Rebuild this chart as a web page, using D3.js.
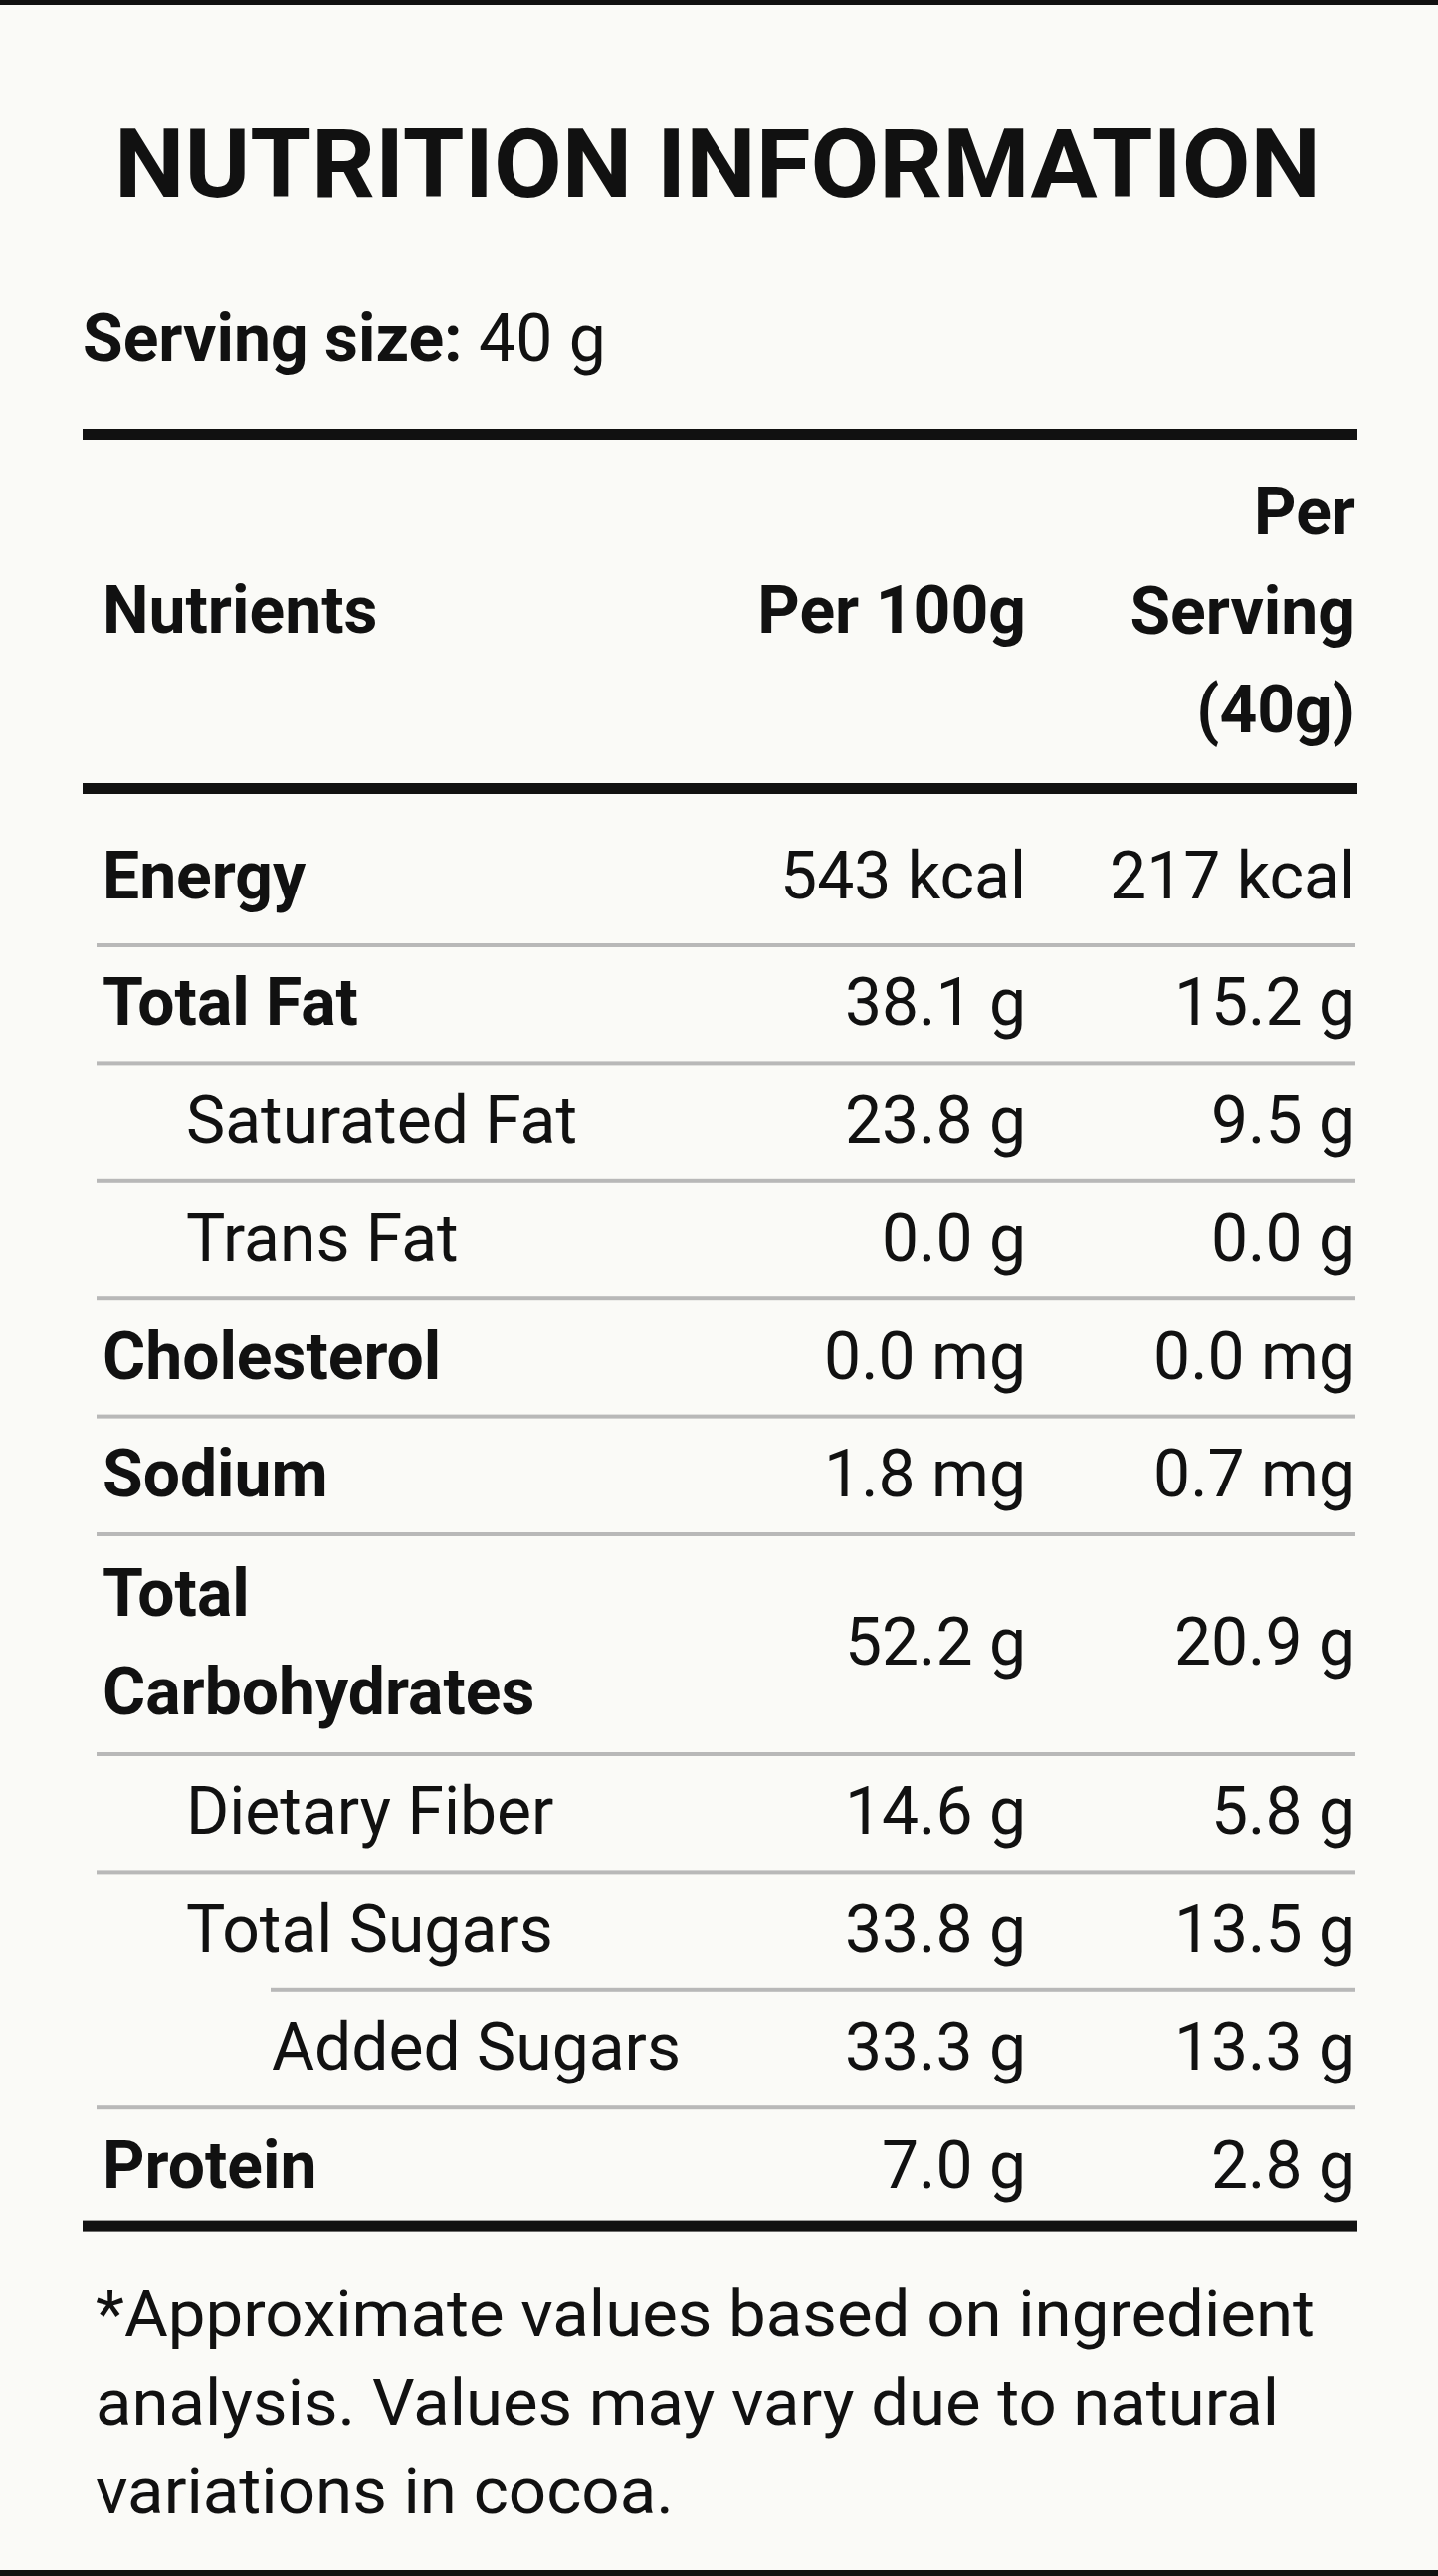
<!DOCTYPE html>
<html>
<head>
<meta charset="utf-8">
<script src="https://cdn.jsdelivr.net/npm/d3@7"></script>
<style>
  body { margin: 0; background: #fafaf7; }
  text { font-family: Roboto, "Noto Sans", sans-serif; fill: #111; }
</style>
</head>
<body>
<div id="target"></div>
<script>
// data
var nutrients = ['Energy', 'Total Fat', 'Saturated Fat', 'Trans Fat', 'Cholesterol', 'Sodium',
                 'Total Carbohydrates', 'Dietary Fiber', 'Total Sugars', 'Added Sugars', 'Protein'];
var per100 = ['543 kcal', '38.1 g', '23.8 g', '0.0 g', '0.0 mg', '1.8 mg', '52.2 g', '14.6 g', '33.8 g', '33.3 g', '7.0 g'];
var perServing = ['217 kcal', '15.2 g', '9.5 g', '0.0 g', '0.0 mg', '0.7 mg', '20.9 g', '5.8 g', '13.5 g', '13.3 g', '2.8 g'];
var levels = [0, 0, 1, 1, 0, 0, 0, 1, 1, 2, 0];
var headers = ['Nutrients', 'Per 100g', 'Per Serving (40g)'];
var footnote = ['*Approximate values based on ingredient',
                'analysis. Values may vary due to natural',
                'variations in cocoa.'];
var footWidths = [1225, 1189, 581];

var W = 1445, H = 2589;
var svg = d3.select('#target').append('svg').attr('width', W).attr('height', H);

svg.append('rect').attr('width', W).attr('height', H).attr('fill', '#fafaf7');
svg.append('rect').attr('width', W).attr('height', 5).attr('fill', '#111');
svg.append('rect').attr('y', H - 6).attr('width', W).attr('height', 6).attr('fill', '#111');

var left = 83, right = 1364;
var indent = d3.scaleOrdinal().domain([0, 1, 2]).range([103, 187, 273]);
var col1 = 1031, col2 = 1362;
var fs = 66;

svg.append('text').attr('x', 721).attr('y', 198).attr('text-anchor', 'middle')
  .attr('font-size', 97).attr('font-weight', 700)
  .attr('textLength', 1212).attr('lengthAdjust', 'spacingAndGlyphs')
  .text('NUTRITION INFORMATION');

var ss = svg.append('text').attr('x', left).attr('y', 363).attr('font-size', 66);
ss.append('tspan').attr('font-weight', 700).text('Serving size:');
ss.append('tspan').text(' 40 g');

svg.append('rect').attr('x', left).attr('y', 431).attr('width', right - left).attr('height', 11).attr('fill', '#111');

// header
svg.append('text').attr('x', indent(0)).attr('y', 636).attr('font-size', fs).attr('font-weight', 700).text(headers[0]);
svg.append('text').attr('x', col1).attr('y', 636).attr('text-anchor', 'end').attr('font-size', fs).attr('font-weight', 700).text(headers[1]);
['Per', 'Serving', '(40g)'].forEach(function (t, i) {
  svg.append('text').attr('x', col2).attr('y', 537 + i * 99.5).attr('text-anchor', 'end')
    .attr('font-size', fs).attr('font-weight', 700).text(t);
});

svg.append('rect').attr('x', left).attr('y', 787).attr('width', right - left).attr('height', 11).attr('fill', '#111');

// rows: separator positions accumulate from row heights
var rowH = nutrients.map(function (d) { return d.length > 15 ? 221 : 118.4; });
var seps = [];
var acc = 950;
rowH.forEach(function (h, i) { if (i > 0) acc += h; seps.push(acc); });

var rows = svg.selectAll('g.row').data(nutrients).enter().append('g').attr('class', 'row');

rows.each(function (d, i) {
  var g = d3.select(this);
  var s = seps[i];
  var bold = levels[i] === 0 ? 700 : 400;
  var yBase = i === 0 ? s - 47 : s - 38;
  if (d === 'Total Carbohydrates') {
    g.append('text').attr('x', indent(0)).attr('y', s - 139).attr('font-size', fs).attr('font-weight', 700).text('Total');
    g.append('text').attr('x', indent(0)).attr('y', s - 40).attr('font-size', fs).attr('font-weight', 700).text('Carbohydrates');
    yBase = s - 90;
  } else {
    g.append('text').attr('x', indent(levels[i])).attr('y', yBase).attr('font-size', fs).attr('font-weight', bold).text(d);
  }
  g.append('text').attr('x', col1).attr('y', yBase).attr('text-anchor', 'end').attr('font-size', fs).text(per100[i]);
  g.append('text').attr('x', col2).attr('y', yBase).attr('text-anchor', 'end').attr('font-size', fs).text(perServing[i]);

  if (i < nutrients.length - 1) {
    var x0 = levels[i + 1] === 2 ? indent(2) - 1 : 97;
    g.append('rect').attr('x', x0).attr('y', s - 2).attr('width', right - 2 - x0).attr('height', 4).attr('fill', '#b8b8b8');
  } else {
    g.append('rect').attr('x', left).attr('y', s - 5).attr('width', right - left).attr('height', 11).attr('fill', '#111');
  }
});

svg.selectAll('text.foot').data(footnote).enter().append('text').attr('class', 'foot')
  .attr('x', 96).attr('y', function (d, i) { return 2348 + i * 89; })
  .attr('font-size', 64)
  .attr('textLength', function (d, i) { return footWidths[i]; })
  .attr('lengthAdjust', 'spacingAndGlyphs')
  .text(function (d) { return d; });
</script>
</body>
</html>
